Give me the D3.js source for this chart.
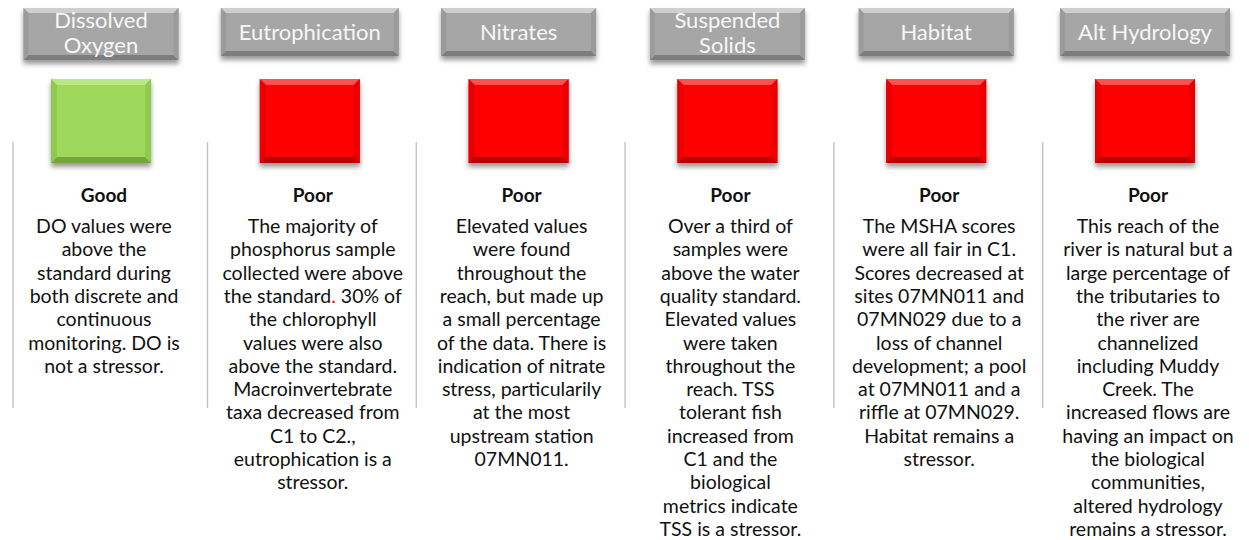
<!DOCTYPE html>
<html><head><meta charset="utf-8">
<script src="https://cdn.jsdelivr.net/npm/d3@7"></script>
<style>body{margin:0;background:#fff} svg{display:block}</style>
</head><body>
<svg id="chart" width="1249" height="540"></svg>
<script>
// ---------- DATA ----------
const categories = ["Dissolved Oxygen","Eutrophication","Nitrates","Suspended Solids","Habitat","Alt Hydrology"];
const headerLines = [["Dissolved","Oxygen"],["Eutrophication"],["Nitrates"],["Suspended","Solids"],["Habitat"],["Alt Hydrology"]];
const ratings = ["Good","Poor","Poor","Poor","Poor","Poor"];
const ratingLevels = ["Good","Poor"];
const descriptions = [
  ["DO values were","above the","standard during","both discrete and","continuous","monitoring. DO is","not a stressor."],
  ["The majority of","phosphorus sample","collected were above","the standard. 30% of","the chlorophyll","values were also","above the standard.","Macroinvertebrate","taxa decreased from","C1 to C2.,","eutrophication is a","stressor."],
  ["Elevated values","were found","throughout the","reach, but made up","a small percentage","of the data. There is","indication of nitrate","stress, particularily","at the most","upstream station","07MN011."],
  ["Over a third of","samples were","above the water","quality standard.","Elevated values","were taken","throughout the","reach. TSS","tolerant fish","increased from","C1 and the","biological","metrics indicate","TSS is a stressor."],
  ["The MSHA scores","were all fair in C1.","Scores decreased at","sites 07MN011 and","07MN029 due to a","loss of channel","development; a pool","at 07MN011 and a","riffle at 07MN029.","Habitat remains a","stressor."],
  ["This reach of the","river is natural but a","large percentage of","the tributaries to","the river are","channelized","including Muddy","Creek. The","increased flows are","having an impact on","the biological","communities,","altered hydrology","remains a stressor."]
];
const highlightLine = "the standard. 30% of";

// ---------- LAYOUT ----------
const svg = d3.select("#chart");
const FONT = "Lato, 'Open Sans', sans-serif";

const x = d3.scalePoint().domain(categories).range([101, 1145]);
const step = x.step();
const colorScale = d3.scaleOrdinal().domain(ratingLevels).range([
  {base:"#9ed95c", top:"#bbe784", side:"#8ccb4c", bottom:"#74a53c"},
  {base:"#ff0000", top:"#ff5151", side:"#e80000", bottom:"#b80000"}
]);
const grayBtn = {base:"#a6a6a6", top:"#cfcfcf", side:"#9b9b9b", bottom:"#7d7d7d"};

const defs = svg.append("defs");
const f = defs.append("filter").attr("id","shadow").attr("x","-20%").attr("y","-20%").attr("width","140%").attr("height","150%");
f.append("feDropShadow").attr("dx",0).attr("dy",4).attr("stdDeviation",2.5).attr("flood-color","#000").attr("flood-opacity",0.4);

function bevelBox(g, bx, by, w, h, b, c) {
  const grp = g.append("g").attr("filter","url(#shadow)");
  grp.append("rect").attr("x",bx).attr("y",by).attr("width",w).attr("height",h).attr("fill",c.base);
  const poly = pts => grp.append("polygon").attr("points", pts.map(p=>p.join(",")).join(" "));
  poly([[bx,by],[bx+w,by],[bx+w-b,by+b],[bx+b,by+b]]).attr("fill",c.top);
  poly([[bx,by+h],[bx+w,by+h],[bx+w-b,by+h-b],[bx+b,by+h-b]]).attr("fill",c.bottom);
  poly([[bx,by],[bx+b,by+b],[bx+b,by+h-b],[bx,by+h]]).attr("fill",c.side);
  poly([[bx+w,by],[bx+w-b,by+b],[bx+w-b,by+h-b],[bx+w,by+h]]).attr("fill",c.side);
}

// vertical separators
svg.append("g").selectAll("line").data(categories).join("line")
  .attr("x1", d => Math.max(13, x(d) - step*0.49)).attr("x2", d => Math.max(13, x(d) - step*0.49))
  .attr("y1", 142).attr("y2", 408)
  .attr("stroke", "#c6c6c6").attr("stroke-width", 1.5);

const cols = svg.append("g").selectAll("g.col").data(categories).join("g").attr("class","col");

cols.each(function(cat, i) {
  const g = d3.select(this);
  const cx = x(cat);
  const lines = headerLines[i];
  const tmp = g.append("text").attr("font-family",FONT).attr("font-size",22);
  let maxW = 0;
  lines.forEach(l => { tmp.text(l); maxW = Math.max(maxW, tmp.node().getComputedTextLength()); });
  tmp.remove();
  const bw = Math.max(maxW + 36, 155);
  const bh = lines.length > 1 ? 52 : 48;
  bevelBox(g, cx - bw/2, 8, bw, bh, 5, grayBtn);
  const ht = g.append("text").attr("text-anchor","middle").attr("font-family",FONT)
    .attr("font-size",22).attr("fill","#f7f7f7");
  if (lines.length > 1) {
    lines.forEach((l, k) => ht.append("tspan").attr("x", cx).attr("y", 28 + k*25).text(l));
  } else {
    ht.append("tspan").attr("x", cx).attr("y", 40).text(lines[0]);
  }
  bevelBox(g, cx - 50, 79, 100, 84, 6, colorScale(ratings[i]));
  g.append("text").attr("x", cx + 3).attr("y", 202).attr("text-anchor","middle")
    .attr("font-family",FONT).attr("font-weight","bold").attr("font-size",19).attr("fill","#111")
    .text(ratings[i]);
  const dt = g.append("text").attr("text-anchor","middle").attr("font-family",FONT)
    .attr("font-size",19.5).attr("fill","#111");
  descriptions[i].forEach((l, k) => {
    const ts = dt.append("tspan").attr("x", cx + 3).attr("y", 233 + k*23.3);
    if (l === highlightLine) {
      const p = l.indexOf(".");
      ts.append("tspan").text(l.slice(0,p));
      ts.append("tspan").attr("fill","#ff0000").text(".");
      ts.append("tspan").text(l.slice(p+1));
    } else ts.text(l);
  });
});
</script>
</body></html>
